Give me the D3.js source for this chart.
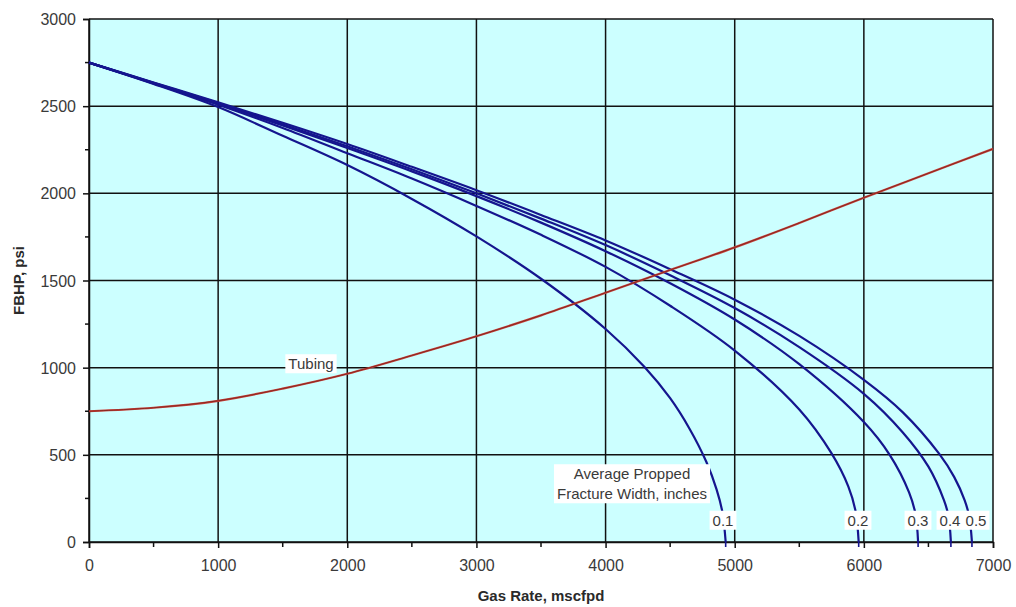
<!DOCTYPE html>
<html>
<head>
<meta charset="utf-8">
<script src="https://cdn.jsdelivr.net/npm/d3@7"></script>
<style>
  html, body { margin: 0; padding: 0; background: #ffffff; }
  svg text { font-family: "Liberation Sans", Arial, sans-serif; }
</style>
</head>
<body>
<svg id="chart" width="1016" height="607"></svg>
<script>
// Gas deliverability: inflow curves for several propped fracture widths vs. tubing outflow
const xTicks = [0, 1000, 2000, 3000, 4000, 5000, 6000, 7000];
const yTicks = [0, 500, 1000, 1500, 2000, 2500, 3000];
const xMinor = [500, 1500, 2500, 3500, 4500, 5500, 6500];
const yMinor = [250, 750, 1250, 1750, 2250, 2750];

const widths = ["0.1", "0.2", "0.3", "0.4", "0.5"];

// [gas rate mscfpd, FBHP psi]
const ipr01 = [[0,2750],[500,2628],[1000,2495],[1500,2330],[2000,2162],[2500,1968],[3000,1753],[3500,1510],[4000,1222],[4300,1005],[4500,825],[4650,650],[4780,460],[4860,300],[4905,170],[4930,0]];
const ipr02 = [[0,2750],[500,2630],[1000,2508],[1500,2375],[2000,2230],[2500,2085],[3000,1928],[3500,1762],[4000,1578],[4500,1355],[5000,1098],[5500,760],[5750,508],[5880,318],[5935,180],[5960,0]];
const ipr03 = [[0,2750],[500,2632],[1000,2514],[1500,2390],[2000,2260],[2500,2126],[3000,1984],[3500,1832],[4000,1668],[4500,1484],[5000,1276],[5500,1020],[6000,688],[6200,500],[6350,285],[6400,160],[6420,0]];
const ipr04 = [[0,2750],[500,2634],[1000,2518],[1500,2396],[2000,2270],[2500,2138],[3000,2000],[3500,1855],[4000,1703],[4500,1530],[5000,1342],[5500,1118],[6000,850],[6300,630],[6500,432],[6620,240],[6655,150],[6674,0]];
const ipr05 = [[0,2750],[500,2636],[1000,2522],[1500,2405],[2000,2283],[2500,2152],[3000,2018],[3500,1876],[4000,1730],[4500,1565],[5000,1390],[5500,1182],[6000,930],[6300,745],[6584,505],[6700,372],[6780,240],[6815,150],[6837,0]];
const iprCurves = [ipr01, ipr02, ipr03, ipr04, ipr05];

const tubing = [[0,750],[500,770],[1000,810],[1500,880],[2000,965],[2500,1070],[3000,1180],[3500,1300],[4000,1430],[4500,1560],[5000,1690],[5500,1830],[6000,1975],[6500,2115],[7000,2255]];

const svg = d3.select("#chart");
const margin = { left: 89, top: 19, right: 1016 - 993, bottom: 607 - 542 };
const W = 1016 - margin.left - margin.right;
const H = 607 - margin.top - margin.bottom;

const x = d3.scaleLinear().domain([0, 7000]).range([margin.left, margin.left + W]);
const y = d3.scaleLinear().domain([0, 3000]).range([margin.top + H, margin.top]);

const ink = "#111";
const textInk = "#3a3a3a";

// plot background
svg.append("rect")
  .attr("x", x(0)).attr("y", y(3000))
  .attr("width", x(7000) - x(0)).attr("height", y(0) - y(3000))
  .attr("fill", "#ccffff");

// grid
const grid = svg.append("g").attr("stroke", ink).attr("stroke-width", 1.5);
grid.selectAll(".gx").data(xTicks).join("line")
  .attr("x1", d => x(d)).attr("x2", d => x(d))
  .attr("y1", y(0)).attr("y2", y(3000));
grid.selectAll(".gy").data(yTicks).join("line")
  .attr("x1", x(0)).attr("x2", x(7000))
  .attr("y1", d => y(d)).attr("y2", d => y(d));

// axes
const xAxis = d3.axisBottom(x).tickValues(xTicks).tickSize(6).tickPadding(12).tickFormat(d3.format("d"));
const gx = svg.append("g").attr("transform", `translate(0,${y(0)})`).call(xAxis);
const yAxis = d3.axisLeft(y).tickValues(yTicks).tickSize(6).tickPadding(7).tickFormat(d3.format("d"));
const gy = svg.append("g").attr("transform", `translate(${x(0)},0)`).call(yAxis);
[gx, gy].forEach(g => {
  g.select(".domain").attr("stroke", ink).attr("stroke-width", 1.5);
  g.selectAll(".tick line").attr("stroke", ink).attr("stroke-width", 1.5);
  g.selectAll(".tick text").attr("fill", textInk).style("font-size", "16px")
    .style("font-family", "'Liberation Sans', Arial, sans-serif");
});
gy.selectAll(".tick text").attr("dy", "0.35em");

// minor ticks
svg.append("g").selectAll("line").data(xMinor).join("line")
  .attr("x1", d => x(d)).attr("x2", d => x(d))
  .attr("y1", y(0)).attr("y2", y(0) + 5)
  .attr("stroke", ink).attr("stroke-width", 1.5);
svg.append("g").selectAll("line").data(yMinor).join("line")
  .attr("x1", x(0) - 4).attr("x2", x(0))
  .attr("y1", d => y(d)).attr("y2", d => y(d))
  .attr("stroke", ink).attr("stroke-width", 1.5);

// curves
const line = d3.line().x(d => x(d[0])).y(d => y(d[1])).curve(d3.curveCatmullRom.alpha(0.5));

svg.append("g").selectAll("path").data(iprCurves).join("path")
  .attr("d", line)
  .attr("fill", "none")
  .attr("stroke", "#15158e")
  .attr("stroke-width", 2.2);

// each inflow curve runs just through the rate axis at its open-flow rate
svg.append("g").selectAll("line").data(iprCurves).join("line")
  .attr("x1", d => x(d[d.length - 1][0])).attr("x2", d => x(d[d.length - 1][0]))
  .attr("y1", y(0)).attr("y2", y(0) + 5)
  .attr("stroke", "#15158e").attr("stroke-width", 1.6);

svg.append("path").datum(tubing)
  .attr("d", line)
  .attr("fill", "none")
  .attr("stroke", "#c8423a")
  .attr("stroke-width", 2.2);
svg.append("path").datum(tubing)
  .attr("d", line)
  .attr("fill", "none")
  .attr("stroke", "#7a1f1a")
  .attr("stroke-width", 0.8);

// labelled boxes
function boxLabel(lines, cx, cy, lh) {
  const g = svg.append("g");
  const t = g.append("text")
    .attr("text-anchor", "middle")
    .attr("fill", textInk)
    .style("font-size", "15px");
  lines.forEach((s, i) => {
    t.append("tspan").attr("x", cx).attr("y", cy + (i - (lines.length - 1) / 2) * lh).attr("dy", "0.35em").text(s);
  });
  const bb = t.node().getBBox();
  g.insert("rect", "text")
    .attr("x", bb.x - 3).attr("y", bb.y - 1)
    .attr("width", bb.width + 6).attr("height", bb.height + 2)
    .attr("fill", "#ffffff");
  return g;
}

boxLabel(["Tubing"], 311, 364, 16);
boxLabel(["Average Propped", "Fracture Width, inches"], 632, 484, 20);

// width labels sit at each curve's end on the axis
const labelX = [723, 858, 918, 950, 976];
widths.forEach((w, i) => boxLabel([w], labelX[i], 520.5, 16));

// axis titles
svg.append("text")
  .attr("x", (x(0) + x(7000)) / 2).attr("y", 601)
  .attr("text-anchor", "middle")
  .style("font-size", "15px").style("font-weight", "bold")
  .attr("fill", "#2a2a2a")
  .text("Gas Rate, mscfpd");
svg.append("text")
  .attr("transform", `translate(24,${(y(0) + y(3000)) / 2}) rotate(-90)`)
  .attr("text-anchor", "middle")
  .style("font-size", "15px").style("font-weight", "bold")
  .attr("fill", "#2a2a2a")
  .text("FBHP, psi");
</script>
</body>
</html>
